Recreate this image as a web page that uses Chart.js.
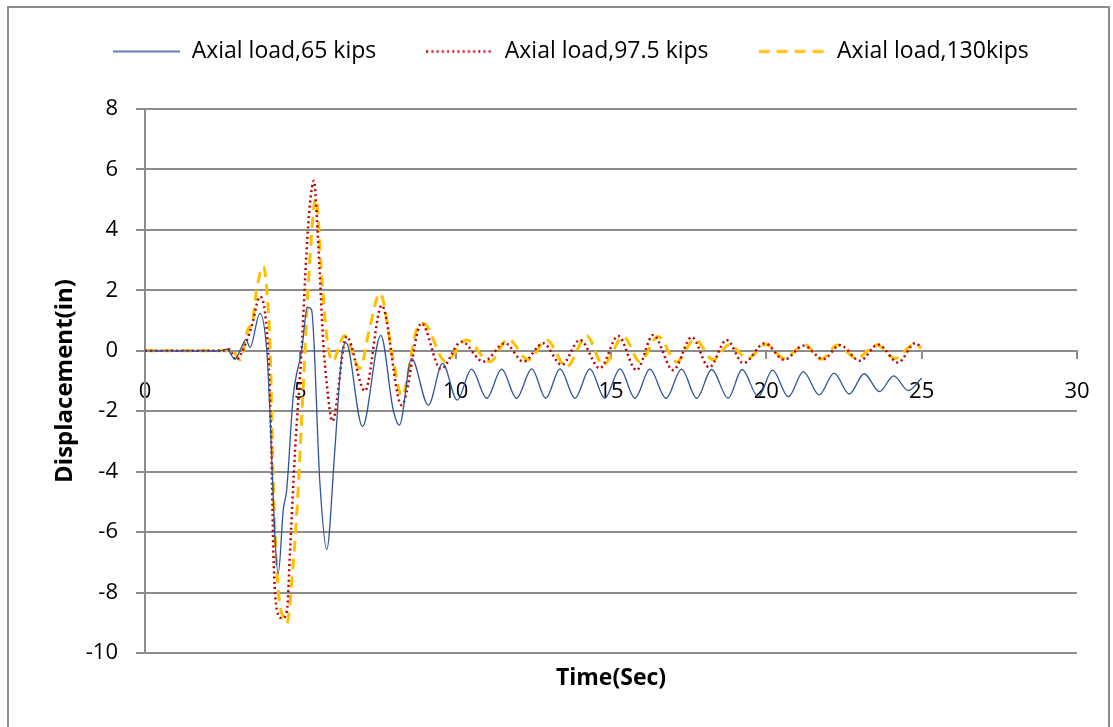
<!DOCTYPE html>
<html>
<head>
<meta charset="utf-8">
<script src="https://cdn.jsdelivr.net/npm/chart.js@4.4.1/dist/chart.umd.min.js"></script>
<style>
  html,body{margin:0;padding:0;background:#fff;overflow:hidden;}
  #wrap{position:relative;width:1113px;height:727px;}
  #frame{position:absolute;left:7px;top:6px;width:1099px;height:760px;border:2px solid #8c8c8c;pointer-events:none;}
  canvas{position:absolute;left:0;top:0;}
</style>
</head>
<body>
<div id="wrap">
  <canvas id="chart" width="1113" height="727"></canvas>
  <div id="frame"></div>
</div>
<script>
// data: time (sec) / displacement (in)
const seriesNames = ['Axial load,65 kips', 'Axial load,97.5 kips', 'Axial load,130kips'];

const t65 = [0, 2.4, 2.63, 2.9, 3.09, 3.25, 3.38, 3.70, 3.92, 4.29, 4.45, 4.56, 4.77, 5.04, 5.23, 5.36, 5.63, 5.85, 6.11, 6.33, 6.47, 7.0, 7.59, 7.99, 8.19, 8.58, 9.12, 9.58, 10.05, 10.51, 11.0, 11.48, 11.96, 12.45, 12.9, 13.36, 13.84, 14.32, 14.8, 15.29, 15.77, 16.25, 16.77, 17.27, 17.76, 18.24, 18.77, 19.22, 19.74, 20.2, 20.71, 21.19, 21.7, 22.18, 22.67, 23.15, 23.64, 24.1, 24.57, 25.0];
const d65 = [0, 0, 0.05, -0.28, 0.08, 0.38, 0.11, 1.24, 0, -7.37, -5.27, -4.61, -1.52, 0, 1.44, 1.36, -4.38, -6.57, -3.29, -0.19, 0.27, -2.51, 0.51, -1.96, -2.46, -0.25, -1.80, -0.42, -1.63, -0.61, -1.57, -0.61, -1.57, -0.60, -1.57, -0.60, -1.57, -0.60, -1.57, -0.60, -1.57, -0.61, -1.57, -0.61, -1.57, -0.62, -1.57, -0.62, -1.52, -0.64, -1.52, -0.69, -1.46, -0.74, -1.43, -0.76, -1.35, -0.83, -1.32, -0.90];

const t975 = [0, 2.5, 2.7, 2.93, 3.22, 3.43, 3.70, 3.96, 4.07, 4.13, 4.25, 4.42, 4.57, 4.67, 4.83, 5.04, 5.2, 5.31, 5.44, 5.53, 5.63, 5.74, 5.85, 6.03, 6.49, 7.08, 7.62, 8.26, 8.9, 9.52, 10.19, 10.89, 11.59, 12.18, 12.82, 13.41, 14.0, 14.64, 15.23, 15.82, 16.36, 17.0, 17.6, 18.16, 18.72, 19.26, 19.95, 20.57, 21.2, 21.83, 22.37, 23.01, 23.6, 24.24, 24.79, 25.0];
const d975 = [0, 0, 0.05, -0.3, 0.19, 0.8, 1.79, 0, -3.3, -6.6, -8.6, -8.85, -8.6, -6.6, -3.3, 0, 3.3, 4.87, 5.63, 4.44, 2.45, 0.25, -1.08, -2.33, 0.47, -1.33, 1.5, -1.8, 0.91, -0.6, 0.3, -0.36, 0.25, -0.36, 0.25, -0.47, 0.36, -0.58, 0.49, -0.64, 0.52, -0.64, 0.45, -0.55, 0.36, -0.41, 0.25, -0.3, 0.17, -0.28, 0.19, -0.33, 0.21, -0.39, 0.25, 0.1];

const t130 = [0, 2.6, 2.8, 3.06, 3.33, 3.45, 3.59, 3.81, 3.93, 4.03, 4.13, 4.24, 4.35, 4.45, 4.56, 4.67, 4.72, 4.88, 5.1, 5.26, 5.5, 5.69, 5.85, 6.03, 6.42, 6.92, 7.24, 7.56, 7.99, 8.26, 8.74, 8.96, 9.68, 10.35, 11.1, 11.69, 12.34, 12.93, 13.57, 14.22, 14.75, 15.4, 15.93, 16.52, 17.11, 17.7, 18.29, 18.8, 19.4, 20.0, 20.56, 21.24, 21.76, 22.3, 22.9, 23.55, 24.15, 24.73, 25.0];
const d130 = [0, 0, 0.02, -0.3, 0.75, 0.9, 2.0, 2.79, 1.9, 0, -4.39, -7.15, -8.47, -8.8, -9.03, -8.36, -7.7, -5.5, -1.08, 2.24, 5.05, 2.45, 0.47, -0.35, 0.5, -0.58, 0.8, 1.9, -0.3, -1.5, 0.69, 0.91, -0.36, 0.36, -0.36, 0.38, -0.3, 0.36, -0.53, 0.49, -0.47, 0.47, -0.36, 0.47, -0.36, 0.38, -0.3, 0.2, -0.25, 0.22, -0.25, 0.2, -0.28, 0.19, -0.25, 0.19, -0.25, 0.19, 0.1];

const xTicks = [0, 5, 10, 15, 20, 25, 30];
const yTicks = [-10, -8, -6, -4, -2, 0, 2, 4, 6, 8];

const pts = (ts, ds) => ts.map((t, i) => ({x: t, y: ds[i]}));
const FONT = '"Open Sans", "Noto Sans", sans-serif';
const GRID = '#8c8c8c';

const BLUE = {color: '#2F5597', width: 1.3, dash: []};
const RED = {color: '#C00000', width: 2.5, dash: [2, 3.2]};
const GOLD = {color: '#FFC000', width: 3, dash: [11, 7]};

// little line swatch used as the legend's point style
function swatch(s){
  const c = document.createElement('canvas');
  c.width = 67; c.height = 8;
  const g = c.getContext('2d');
  g.strokeStyle = s.color; g.lineWidth = s.width; g.setLineDash(s.dash);
  g.beginPath(); g.moveTo(0, 4); g.lineTo(67, 4); g.stroke();
  return c;
}

function ds(label, data, s){
  return {label, data, xAxisID: 'x', yAxisID: 'y', borderColor: s.color, backgroundColor: s.color, borderWidth: s.width, borderDash: s.dash, pointStyle: swatch(s)};
}

// empty axis used only to reserve space
const spacer = (position, size) => ({
  type: 'linear', position, min: 0, max: 1,
  afterFit: s => { if (s.isHorizontal()) s.height = size; else s.width = size; },
  ticks: {display: false}, grid: {display: false}, border: {display: false}
});

new Chart(document.getElementById('chart'), {
  type: 'line',
  data: {
    datasets: [
      ds(seriesNames[0], pts(t65, d65), BLUE),
      ds(seriesNames[1], pts(t975, d975), RED),
      ds(seriesNames[2], pts(t130, d130), GOLD)
    ]
  },
  options: {
    responsive: false,
    animation: false,
    events: [],
    layout: {padding: {top: -10, right: 0, bottom: 0, left: 29}},
    elements: {
      point: {radius: 0},
      line: {cubicInterpolationMode: 'monotone', fill: false}
    },
    plugins: {
      tooltip: {enabled: false},
      legend: {
        position: 'top',
        labels: {
          usePointStyle: true,
          pointStyleWidth: 67,
          padding: 50,
          color: '#000',
          font: {family: FONT, size: 23}
        }
      }
    },
    scales: {
      x: {
        type: 'linear',
        min: 0, max: 30,
        position: {y: 0},
        afterBuildTicks: s => { s.ticks = xTicks.map(v => ({value: v})); },
        ticks: {color: '#000', padding: 21, font: {family: FONT, size: 22}, maxRotation: 0},
        grid: {drawOnChartArea: false, drawTicks: true, tickLength: 7, color: GRID, lineWidth: 2},
        border: {display: true, color: GRID, width: 2}
      },
      y: {
        type: 'linear',
        position: 'left',
        min: -10, max: 8,
        afterFit: s => { s.width = 116; },
        afterBuildTicks: s => { s.ticks = yTicks.map(v => ({value: v})); },
        ticks: {color: '#000', padding: 18, font: {family: FONT, size: 22}},
        grid: {color: GRID, lineWidth: 2, tickLength: 9},
        border: {display: true, color: GRID, width: 2},
        title: {display: true, text: 'Displacement(in)', color: '#000', padding: {top: 22, bottom: 0}, font: {family: FONT, size: 24, weight: 'bold'}}
      },
      padTop: spacer('top', 36),
      padRight: spacer('right', 36),
      x2: {
        type: 'linear',
        position: 'bottom',
        min: 0, max: 30,
        afterFit: s => { s.height = 74; },
        ticks: {display: false},
        grid: {display: false},
        border: {display: false},
        title: {display: true, text: 'Time(Sec)', color: '#000', padding: {top: 0, bottom: 35}, font: {family: FONT, size: 23, weight: 'bold'}}
      }
    }
  }
});
</script>
</body>
</html>
